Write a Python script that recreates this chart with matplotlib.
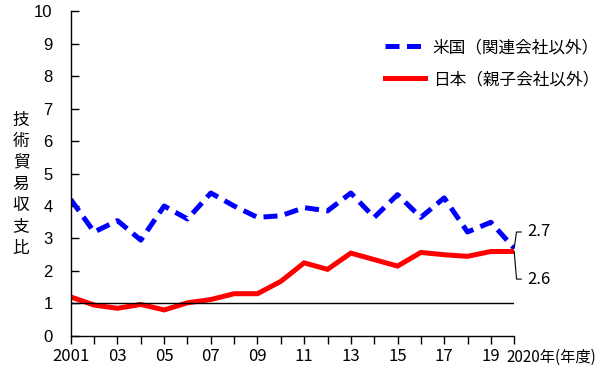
import matplotlib
matplotlib.use("Agg")
import matplotlib.pyplot as plt
import matplotlib.transforms as mtransforms

plt.rcParams['font.family'] = ['Noto Sans CJK JP', 'DejaVu Sans']

years = list(range(2001, 2021))
us_ratio = [4.2, 3.2, 3.55, 2.95, 4.0, 3.6, 4.4, 4.0, 3.65, 3.7,
            3.95, 3.85, 4.4, 3.65, 4.35, 3.65, 4.25, 3.2, 3.5, 2.7]
jp_ratio = [1.2, 0.95, 0.85, 0.97, 0.8, 1.02, 1.12, 1.3, 1.3, 1.68,
            2.25, 2.05, 2.55, 2.35, 2.15, 2.57, 2.5, 2.45, 2.6, 2.6]
us_label = "米国（関連会社以外）"
jp_label = "日本（親子会社以外）"
ylabel = "技術貿易収支比"
xtick_pos = [2001, 2003, 2005, 2007, 2009, 2011, 2013, 2015, 2017, 2019, 2020]
xtick_labels = ["2001", "03", "05", "07", "09", "11", "13", "15", "17", "19", "2020年(年度)"]
end_labels = ["2.7", "2.6"]

fig = plt.figure(figsize=(6, 3.72), dpi=100)
ax = fig.add_axes([0.118, 0.097, 0.739, 0.873])

ax.plot(years, us_ratio, color='#0000ff', lw=3.6, ls=(0, (2.8, 1.5)), label=us_label,
        dash_capstyle='butt', solid_joinstyle='miter')
ax.plot(years, jp_ratio, color='#ff0000', lw=3.6, label=jp_label, solid_joinstyle='miter')
ax.plot([years[0], years[-1]], [1, 1], color='black', lw=1)

ax.set_xlim(2001, 2020)
ax.set_ylim(0, 10)
ax.set_yticks(range(0, 11))
ax.set_xticks(years, minor=True)
ax.set_xticks(xtick_pos)
ax.set_xticklabels(xtick_labels, fontsize=12)
ax.tick_params(axis='y', direction='in', length=6, width=1, labelsize=12, pad=13)
ax.tick_params(axis='x', which='both', direction='out', length=6, width=1, pad=3)
for lab in ax.get_yticklabels():
    lab.set_family('Liberation Sans')
last = ax.get_xticklabels()[-1]
last.set_horizontalalignment('left')
last.set_transform(last.get_transform() + mtransforms.ScaledTranslation(-0.08, 0, fig.dpi_scale_trans))
last.set_fontsize(11)

for s in ['top', 'right']:
    ax.spines[s].set_visible(False)
ax.spines['left'].set_linewidth(1)
ax.spines['bottom'].set_linewidth(1)

fig.text(0.035, 0.505, "\n".join(ylabel), fontsize=12, ha='center', va='center', linespacing=1.33)

ax.legend(loc='upper right', bbox_to_anchor=(1.225, 0.96), frameon=False, fontsize=12,
          handlelength=2.4, handletextpad=0.45, labelspacing=0.9)

# end-value brackets
xe = years[-1]
ax.plot([xe, xe + 0.1, xe + 0.3], [us_ratio[-1], 3.2, 3.2], color='black', lw=0.8, clip_on=False)
ax.plot([xe, xe + 0.1, xe + 0.3], [jp_ratio[-1], 1.75, 1.75], color='black', lw=0.8, clip_on=False)
ax.text(xe + 0.55, 3.2, end_labels[0], fontsize=12, va='center', ha='left')
ax.text(xe + 0.55, 1.75, end_labels[1], fontsize=12, va='center', ha='left')

fig.savefig("out.png", dpi=100)
